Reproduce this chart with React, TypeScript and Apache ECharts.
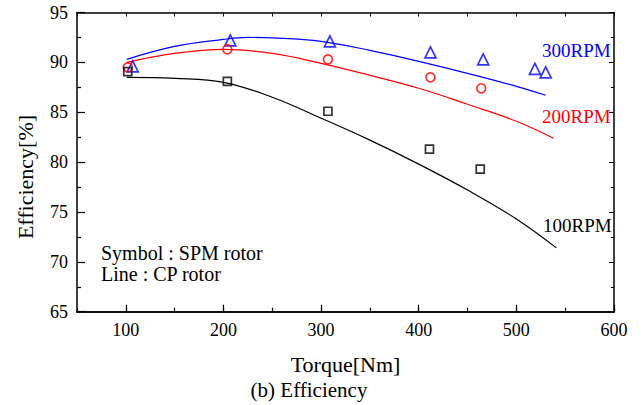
import React, { useEffect, useRef } from "react";
import * as echarts from "echarts";

// SPM rotor measurements (symbols)
const spm300Torque = [107, 207, 309, 412, 466, 519, 530];
const spm300Eff = [89.6, 92.2, 92.1, 91.0, 90.3, 89.35, 89.0];
const spm200Torque = [102, 204, 307, 412, 464];
const spm200Eff = [89.5, 91.3, 90.3, 88.5, 87.4];
const spm100Torque = [102, 204, 307, 411, 463];
const spm100Eff = [89.07, 88.1, 85.1, 81.3, 79.3];

// CP rotor curves (lines)
const cp300Torque = [101, 150, 200, 225, 250, 300, 350, 400, 450, 500, 530];
const cp300Eff = [90.3, 91.6, 92.3, 92.5, 92.45, 92.1, 91.2, 90.1, 88.9, 87.6, 86.7];
const cp200Torque = [101, 150, 200, 250, 300, 350, 400, 450, 500, 538];
const cp200Eff = [90.0, 90.9, 91.3, 90.9, 89.9, 88.7, 87.4, 85.8, 84.1, 82.4];
const cp100Torque = [101, 150, 200, 250, 300, 350, 400, 450, 500, 541];
const cp100Eff = [88.5, 88.4, 88.0, 86.5, 84.4, 82.2, 79.8, 77.2, 74.3, 71.4];

const seriesLabels = ["300RPM", "200RPM", "100RPM"];
const xTitle = "Torque[Nm]";
const yTitle = "Efficiency[%]";
const caption = "(b) Efficiency";
const noteLines = ["Symbol : SPM rotor", "Line : CP rotor"];

const FONT = "Liberation Serif";
const BLUE = "#0000ff";
const RED = "#ff0000";
const BLACK = "#000000";

const zip = (xs: number[], ys: number[]) => xs.map((x, i) => [x, ys[i]]);

export default function App() {
  const ref = useRef<HTMLDivElement>(null);
  useEffect(() => {
    if (!ref.current) return;
    const chart = echarts.init(ref.current, null, { renderer: "svg" });
    const axisLine = { show: true, lineStyle: { color: BLACK, width: 1.5 } };
    const xBase = {
      type: "value",
      min: 50,
      max: 600,
      axisLine,
      splitLine: { show: false },
    };
    const lineSeries = (xs: number[], ys: number[], color: string) => ({
      type: "line",
      data: zip(xs, ys),
      smooth: 0.4,
      showSymbol: false,
      symbol: "none",
      lineStyle: { color, width: 1.2 },
      xAxisIndex: 1,
      yAxisIndex: 0,
      z: 2,
    });
    const scatterSeries = (
      xs: number[],
      ys: number[],
      color: string,
      symbol: string,
      size: number
    ) => ({
      type: "scatter",
      data: zip(xs, ys),
      symbol,
      symbolSize: size,
      itemStyle: { color: "rgba(0,0,0,0)", borderColor: color, borderWidth: 1.7 },
      xAxisIndex: 1,
      yAxisIndex: 0,
      z: 3,
    });
    const txt = (size: number, color: string) => ({
      fontSize: size,
      fontFamily: FONT,
      fill: color,
    });
    chart.setOption({
      animation: false,
      backgroundColor: "#ffffff",
      textStyle: { fontFamily: FONT },
      grid: { left: 77, right: 29, top: 12.5, bottom: 93.3, containLabel: false },
      xAxis: [
        {
          ...xBase,
          position: "bottom",
          interval: 50,
          axisTick: { show: true, inside: true, length: 4, lineStyle: { color: BLACK, width: 1.2 } },
          axisLabel: { show: false },
        },
        {
          ...xBase,
          position: "bottom",
          splitNumber: 5,
          minInterval: 100,
          maxInterval: 100,
          axisTick: { show: true, inside: true, length: 7, lineStyle: { color: BLACK, width: 1.2 } },
          axisLabel: {
            show: true,
            showMinLabel: false,
            margin: 9,
            fontSize: 18,
            fontFamily: FONT,
            color: BLACK,
            formatter: (v: number) => (v % 100 === 0 ? String(v) : ""),
          },
          name: xTitle,
          nameLocation: "middle",
          nameGap: 42,
          nameTextStyle: { fontSize: 22, fontFamily: FONT, color: BLACK },
        },
        {
          ...xBase,
          position: "top",
          interval: 50,
          axisTick: { show: true, inside: true, length: 4, lineStyle: { color: BLACK, width: 1 } },
          axisLabel: { show: false },
        },
      ],
      yAxis: [
        {
          type: "value",
          position: "left",
          min: 65,
          max: 95,
          interval: 5,
          axisLine,
          splitLine: { show: false },
          axisTick: { show: true, inside: true, length: 8, lineStyle: { color: BLACK, width: 1.2 } },
          minorTick: { show: true, splitNumber: 2, length: 4, lineStyle: { color: BLACK, width: 1.2 } },
          minorSplitLine: { show: false },
          axisLabel: { show: true, margin: 9, fontSize: 18, fontFamily: FONT, color: BLACK },
        },
        {
          type: "value",
          position: "right",
          min: 65,
          max: 95,
          interval: 5,
          axisLine,
          splitLine: { show: false },
          axisTick: { show: true, inside: true, length: 5, lineStyle: { color: BLACK, width: 1 } },
          minorTick: { show: true, splitNumber: 2, length: 3, lineStyle: { color: BLACK, width: 1 } },
          minorSplitLine: { show: false },
          axisLabel: { show: false },
        },
      ],
      series: [
        lineSeries(cp300Torque, cp300Eff, BLUE),
        lineSeries(cp200Torque, cp200Eff, RED),
        lineSeries(cp100Torque, cp100Eff, BLACK),
        scatterSeries(spm300Torque, spm300Eff, BLUE, "triangle", 11),
        scatterSeries(spm200Torque, spm200Eff, RED, "circle", 9),
        scatterSeries(spm100Torque, spm100Eff, BLACK, "rect", 8),
      ],
      graphic: [
        {
          type: "text",
          left: 542,
          top: 41,
          style: { text: seriesLabels[0], ...txt(19, BLUE) },
        },
        {
          type: "text",
          left: 542,
          top: 107,
          style: { text: seriesLabels[1], ...txt(19, RED) },
        },
        {
          type: "text",
          left: 543,
          top: 216,
          style: { text: seriesLabels[2], ...txt(19, BLACK) },
        },
        {
          type: "text",
          left: 101,
          top: 243,
          style: { text: noteLines[0], ...txt(20, BLACK) },
        },
        {
          type: "text",
          left: 101,
          top: 264,
          style: { text: noteLines[1], ...txt(20, BLACK) },
        },
        {
          type: "text",
          x: 25,
          y: 177,
          rotation: Math.PI / 2,
          style: {
            text: yTitle,
            ...txt(22, BLACK),
            align: "center",
            verticalAlign: "middle",
          },
        },
        {
          type: "text",
          x: 309,
          y: 390,
          style: {
            text: caption,
            ...txt(21, BLACK),
            align: "center",
            verticalAlign: "middle",
          },
        },
      ],
    });
    return () => chart.dispose();
  }, []);
  return (
    <div
      ref={ref}
      style={{ position: "absolute", left: 0, top: 0, width: 643, height: 405, background: "#fff" }}
    />
  );
}
